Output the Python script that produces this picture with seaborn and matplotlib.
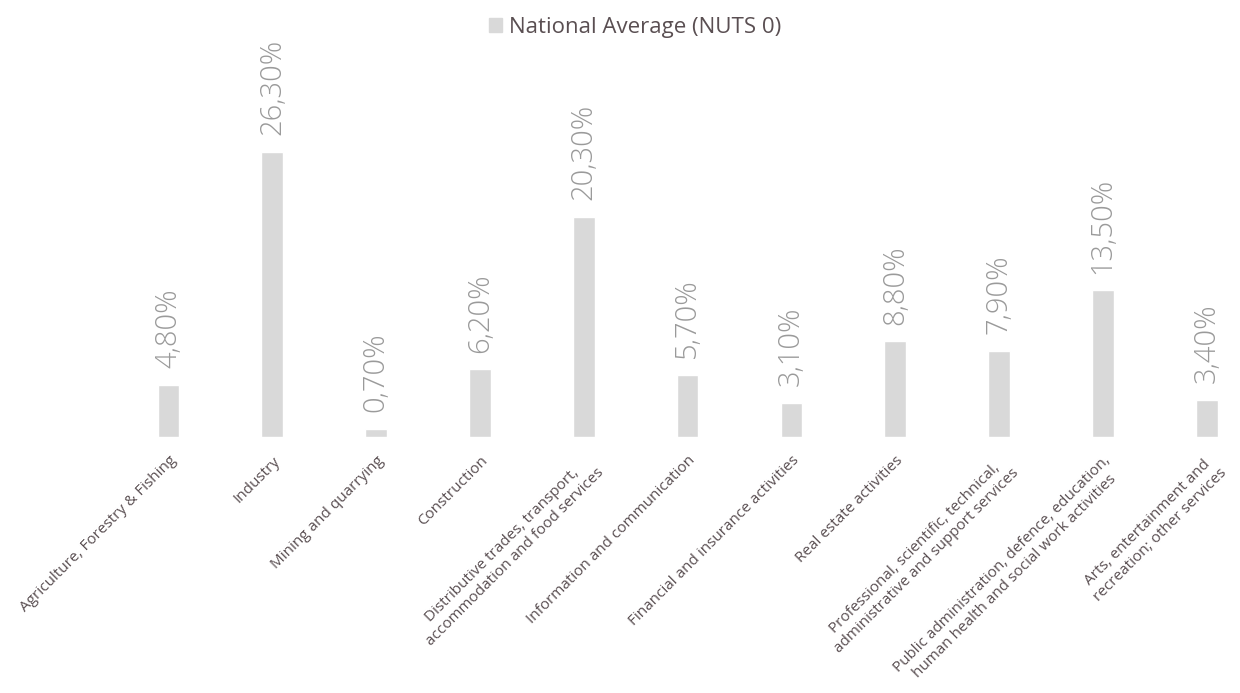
import matplotlib
matplotlib.use('Agg')
import matplotlib.pyplot as plt
from matplotlib.patches import Patch
import seaborn as sns
import pandas as pd

sns.set_style("white")
plt.rcParams['font.family'] = ['Open Sans', 'DejaVu Sans']

# veri
sektorler = [
    'Agriculture, Forestry & Fishing',
    'Industry',
    'Mining and quarrying',
    'Construction',
    'Distributive trades, transport,\naccommodation and food services',
    'Information and communication',
    'Financial and insurance activities',
    'Real estate activities',
    'Professional, scientific, technical,\nadministrative and support services',
    'Public administration, defence, education,\nhuman health and social work activities',
    'Arts, entertainment and\nrecreation; other services',
]
degerler = [4.8, 26.3, 0.7, 6.2, 20.3, 5.7, 3.1, 8.8, 7.9, 13.5, 3.4]
seri_adi = 'National Average (NUTS 0)'

df = pd.DataFrame({'sektor': sektorler, 'deger': degerler, 'seri': seri_adi})

bar_renk = '#d9d9d9'
yazi_renk = '#5a4f52'
etiket_renk = '#9a9a9a'

fig = plt.figure(figsize=(12.4, 6.93), dpi=100)
ax = fig.add_axes([0.094, 0.370, 0.921, 0.469])

sns.barplot(data=df, x='sektor', y='deger', hue='seri', palette=[bar_renk],
            width=0.21, ax=ax, legend=False)
ax.set_xlim(-0.5, 10.5)
ax.set_ylim(0, 30)

# değer etiketleri (virgüllü yüzde)
etiketler = [f"{v:.2f}%".replace('.', ',') for v in degerler]
ax.bar_label(ax.containers[0], labels=etiketler, rotation=90, padding=12,
             color=etiket_renk, fontsize=21, fontweight='light')

ax.set_xlabel('')
ax.set_ylabel('')
ax.set_yticks([])
ax.tick_params(axis='x', length=0, pad=12)
ax.set_xticks(range(len(sektorler)))
ax.set_xticklabels(sektorler, rotation=45, ha='right', va='top',
                   rotation_mode='anchor', multialignment='center',
                   color=yazi_renk, fontsize=11, linespacing=1.2)
sns.despine(ax=ax, left=True, bottom=True)

fig.legend(handles=[Patch(color=bar_renk, label=seri_adi)], loc='upper center',
           bbox_to_anchor=(0.512, 1.005), frameon=False, fontsize=16,
           labelcolor=yazi_renk, handlelength=0.6, handleheight=0.6,
           handletextpad=0.3)

fig.savefig('out.png', dpi=100)
